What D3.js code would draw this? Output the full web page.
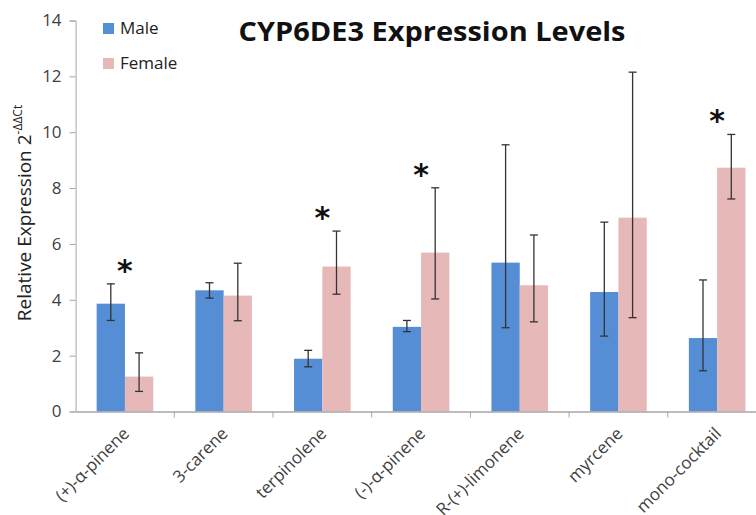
<!DOCTYPE html>
<html>
<head>
<meta charset="utf-8">
<script src="https://cdn.jsdelivr.net/npm/d3@7"></script>
<style>
  body { margin: 0; background: #fff; }
  svg { display: block; font-family: "Open Sans", sans-serif; }
</style>
</head>
<body>
<div id="chart"></div>
<script>
// data
const categories = ["(+)-\u03b1-pinene", "3-carene", "terpinolene", "(-)-\u03b1-pinene", "R-(+)-limonene", "myrcene", "mono-cocktail"];
const series = ["Male", "Female"];
const maleVals = [3.86, 4.34, 1.89, 3.03, 5.33, 4.28, 2.63];
const maleErrHi = [4.57, 4.61, 2.19, 3.26, 9.55, 6.78, 4.71];
const maleErrLo = [3.26, 4.06, 1.60, 2.86, 3.00, 2.70, 1.46];
const femaleVals = [1.25, 4.15, 5.19, 5.69, 4.52, 6.94, 8.73];
const femaleErrHi = [2.10, 5.31, 6.46, 8.01, 6.32, 12.15, 9.92];
const femaleErrLo = [0.72, 3.25, 4.20, 4.03, 3.21, 3.36, 7.61];
const significant = [true, false, true, true, false, false, true];
const yTicks = [0, 2, 4, 6, 8, 10, 12, 14];

const colors = {Male: "#558ed5", Female: "#e6b9b8"};

const W = 756, H = 515;
const margin = {left: 75.6, right: 756 - 766.5, top: 20.5, bottom: 515 - 411.5};

const svg = d3.select("#chart").append("svg")
    .attr("width", W)
    .attr("height", H);

const x0 = d3.scaleBand()
    .domain(categories)
    .range([margin.left, W - margin.right])
    .paddingInner(0)
    .paddingOuter(0);

const x1 = d3.scaleBand()
    .domain(series)
    .range([0, x0.bandwidth()])
    .paddingOuter(0.744)
    .paddingInner(0);

const y = d3.scaleLinear()
    .domain([0, 14])
    .range([H - margin.bottom, margin.top]);

const rows = categories.map((c, i) => ({
    cat: c,
    sig: significant[i],
    bars: [
        {s: "Male", v: maleVals[i], hi: maleErrHi[i], lo: maleErrLo[i]},
        {s: "Female", v: femaleVals[i], hi: femaleErrHi[i], lo: femaleErrLo[i]}
    ]
}));

const axisCol = "#a6a6a6";

// bars
const g = svg.selectAll("g.grp")
    .data(rows)
    .join("g")
    .attr("class", "grp")
    .attr("transform", d => `translate(${x0(d.cat)},0)`);

g.selectAll("rect")
    .data(d => d.bars)
    .join("rect")
    .attr("x", d => x1(d.s))
    .attr("width", x1.bandwidth())
    .attr("y", d => y(d.v))
    .attr("height", d => y(0) - y(d.v))
    .attr("fill", d => colors[d.s]);

// error bars
const eb = g.selectAll("g.err")
    .data(d => d.bars)
    .join("g")
    .attr("class", "err")
    .attr("stroke", "#333")
    .attr("stroke-width", 1.3);

const cx = d => x1(d.s) + x1.bandwidth() / 2;
eb.append("line")
    .attr("x1", cx).attr("x2", cx)
    .attr("y1", d => y(d.hi)).attr("y2", d => y(d.lo));
eb.append("line")
    .attr("x1", d => cx(d) - 4).attr("x2", d => cx(d) + 4)
    .attr("y1", d => y(d.hi)).attr("y2", d => y(d.hi));
eb.append("line")
    .attr("x1", d => cx(d) - 4).attr("x2", d => cx(d) + 4)
    .attr("y1", d => y(d.lo)).attr("y2", d => y(d.lo));

// stars
g.filter(d => d.sig).append("text")
    .attr("x", x0.bandwidth() / 2)
    .attr("y", d => y(d3.max(d.bars, b => b.hi)) - 3)
    .attr("text-anchor", "middle")
    .attr("font-size", 30)
    .attr("font-weight", "bold")
    .attr("font-family", "DejaVu Sans, sans-serif")
    .attr("fill", "#111")
    .text("*");

// y axis
const yAxis = svg.append("g")
    .attr("transform", `translate(${margin.left},0)`)
    .call(d3.axisLeft(y).tickValues(yTicks).tickSize(6).tickPadding(8));
yAxis.select(".domain").attr("stroke", axisCol);
yAxis.selectAll(".tick line").attr("stroke", axisCol);
yAxis.selectAll(".tick text")
    .attr("font-size", 17)
    .attr("font-family", "Open Sans, sans-serif")
    .attr("fill", "#404040");

// x axis
const xAxis = svg.append("g")
    .attr("transform", `translate(0,${y(0)})`)
    .call(d3.axisBottom(x0).tickSize(0).tickPadding(0));
xAxis.select(".domain").attr("stroke", axisCol).attr("stroke-width", 1.5);
xAxis.selectAll(".tick text")
    .attr("font-size", 17)
    .attr("font-family", "Open Sans, sans-serif")
    .attr("fill", "#404040")
    .attr("text-anchor", "end")
    .attr("dy", null)
    .attr("y", 0)
    .attr("transform", "translate(2,20) rotate(-45)")
    .attr("dominant-baseline", "middle");

// category boundary ticks
svg.append("g")
    .selectAll("line")
    .data(categories.slice(1))
    .join("line")
    .attr("x1", d => x0(d)).attr("x2", d => x0(d))
    .attr("y1", y(0)).attr("y2", y(0) + 6)
    .attr("stroke", axisCol);

// y label
svg.append("text")
    .attr("transform", "translate(31,213) rotate(-90)")
    .attr("text-anchor", "middle")
    .attr("font-size", 19)
    .attr("fill", "#222")
    .text("Relative Expression 2")
    .append("tspan")
    .attr("font-size", 12)
    .attr("dy", -9)
    .text("-\u0394\u0394Ct");

// title
svg.append("text")
    .attr("x", 432)
    .attr("y", 41)
    .attr("text-anchor", "middle")
    .attr("font-size", 27)
    .attr("font-weight", "bold")
    .attr("fill", "#111")
    .attr("textLength", 387)
    .attr("lengthAdjust", "spacingAndGlyphs")
    .text("CYP6DE3 Expression Levels");

// legend
const leg = svg.append("g")
    .selectAll("g")
    .data(series)
    .join("g")
    .attr("transform", (d, i) => `translate(103,${23 + i * 35})`);
leg.append("rect")
    .attr("width", 11).attr("height", 11)
    .attr("fill", d => colors[d]);
leg.append("text")
    .attr("x", 17).attr("y", 6)
    .attr("dominant-baseline", "middle")
    .attr("font-size", 17)
    .attr("fill", "#222")
    .text(d => d);
</script>
</body>
</html>
